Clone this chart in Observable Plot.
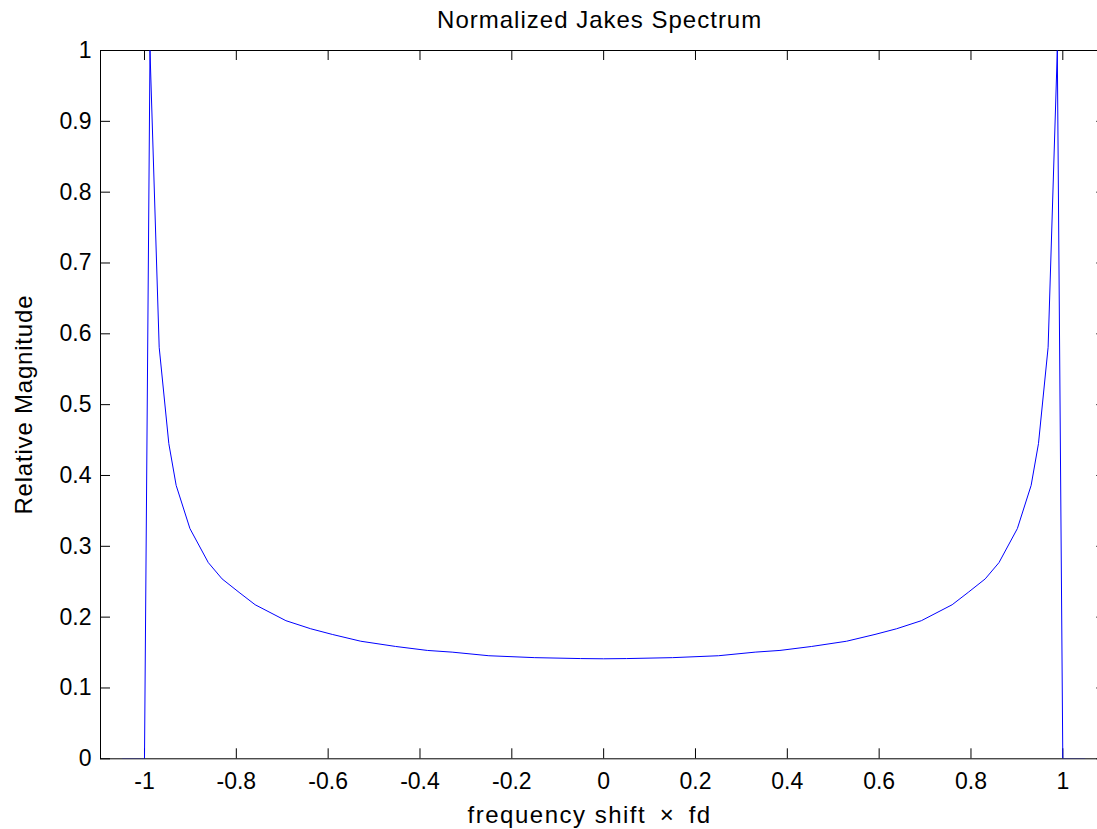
<!DOCTYPE html>
<html>
<head>
<meta charset="utf-8">
<script src="https://cdn.jsdelivr.net/npm/d3@7"></script>
<script src="https://cdn.jsdelivr.net/npm/@observablehq/plot@0.6"></script>
<style>
  html, body { margin: 0; padding: 0; background: #fff; overflow: hidden; }
  #chart svg { display: block; }
</style>
</head>
<body>
<div id="chart"></div>
<script>
// Values
const freq = [
  -1.048, -1.0, -0.988, -0.968, -0.947, -0.931, -0.901, -0.861, -0.831, -0.794,
  -0.759, -0.692, -0.638, -0.591, -0.529, -0.453, -0.384, -0.33, -0.25, -0.15,
  -0.05, 0,
  0.05, 0.15, 0.25, 0.33, 0.384, 0.453, 0.529, 0.591, 0.638, 0.692,
  0.759, 0.794, 0.831, 0.861, 0.901, 0.931, 0.947, 0.968, 0.988, 1.0, 1.048
];
const magnitude = [
  0, 0, 1.0, 0.581, 0.445, 0.386, 0.325, 0.277, 0.254, 0.235,
  0.2175, 0.195, 0.1836, 0.1756, 0.166, 0.1586, 0.153, 0.1506, 0.1455, 0.1428,
  0.1415, 0.1412,
  0.1415, 0.1428, 0.1455, 0.1506, 0.153, 0.1586, 0.166, 0.1756, 0.1836, 0.195,
  0.2175, 0.235, 0.254, 0.277, 0.325, 0.386, 0.445, 0.581, 1.0, 0, 0
];
const xTicks = [-1, -0.8, -0.6, -0.4, -0.2, 0, 0.2, 0.4, 0.6, 0.8, 1];
const xTickLabels = ["-1", "-0.8", "-0.6", "-0.4", "-0.2", "0", "0.2", "0.4", "0.6", "0.8", "1"];
const yTicks = [0, 0.1, 0.2, 0.3, 0.4, 0.5, 0.6, 0.7, 0.8, 0.9, 1];
const yTickLabels = ["0", "0.1", "0.2", "0.3", "0.4", "0.5", "0.6", "0.7", "0.8", "0.9", "1"];
const xLimits = [-1.0958, 1.0958];
const yLimits = [0, 1];
const titleText = "Normalized Jakes Spectrum";
const xLabelText = "frequency shift\u2002\u00d7\u2002fd";
const yLabelText = "Relative Magnitude";

const data = freq.map((f, i) => ({f, m: magnitude[i]}));
const xTickData = xTicks.map((v, i) => ({v, label: xTickLabels[i]}));
const yTickData = yTicks.map((v, i) => ({v, label: yTickLabels[i]}));

const W = 1097, H = 829;
const mLeft = 100, mTop = 50, mBottom = 70.7, mRight = -9.3;
const frameH = H - mTop - mBottom;
const frameW = W - mLeft - mRight;
const tick = 10;

const font = "'Liberation Sans', Arial, Helvetica, sans-serif";

const chart = Plot.plot({
  width: W,
  height: H,
  marginLeft: mLeft,
  marginRight: mRight,
  marginTop: mTop,
  marginBottom: mBottom,
  style: {fontFamily: font, fontSize: "23px", background: "#fff", color: "#000", overflow: "hidden"},
  x: {domain: xLimits, range: [mLeft, W - mRight], axis: null},
  y: {domain: yLimits, range: [H - mBottom, mTop], axis: null},
  marks: [
    // inward ticks on the four sides
    Plot.ruleX(xTickData, {x: "v", insetTop: frameH - tick, stroke: "#000", strokeWidth: 1}),
    Plot.ruleX(xTickData, {x: "v", insetBottom: frameH - tick, stroke: "#000", strokeWidth: 1}),
    Plot.ruleY(yTickData, {y: "v", insetRight: frameW - tick, stroke: "#000", strokeWidth: 1}),
    Plot.ruleY(yTickData, {y: "v", insetLeft: frameW - tick, stroke: "#000", strokeWidth: 1}),
    // axes box
    Plot.frame({stroke: "#000", strokeWidth: 1}),
    // data line (drawn over the box, as in the reference)
    Plot.line(data, {x: "f", y: "m", stroke: "#0000ff", strokeWidth: 1, clip: true}),
    // tick labels
    Plot.text(xTickData, {x: "v", text: "label", frameAnchor: "bottom", lineAnchor: "bottom", dy: 30, fill: "#000", fontSize: 23}),
    Plot.text(yTickData, {y: "v", text: "label", frameAnchor: "left", textAnchor: "end", lineAnchor: "middle", dx: -9, fill: "#000", fontSize: 23}),
    // title and axis labels
    Plot.text([titleText], {text: d => d, frameAnchor: "top", textAnchor: "middle", lineAnchor: "bottom", dx: -4, dy: -23, fill: "#000", fontSize: 24}),
    Plot.text([xLabelText], {text: d => d, frameAnchor: "bottom", textAnchor: "middle", lineAnchor: "bottom", dx: -14, dy: 64, fill: "#000", fontSize: 24}),
    Plot.text([yLabelText], {text: d => d, frameAnchor: "left", textAnchor: "middle", rotate: -90, lineAnchor: "middle", dx: -76, dy: 0, fill: "#000", fontSize: 24})
  ]
});

// widen the label text a little, like the reference's rendering
const spacing = new Map([[titleText, "1px"], [xLabelText, "1.5px"], [yLabelText, "0.8px"]]);
d3.select(chart).selectAll("text").each(function() {
  const s = spacing.get(this.textContent);
  if (s) this.setAttribute("letter-spacing", s);
});
document.getElementById("chart").appendChild(chart);
</script>
</body>
</html>
